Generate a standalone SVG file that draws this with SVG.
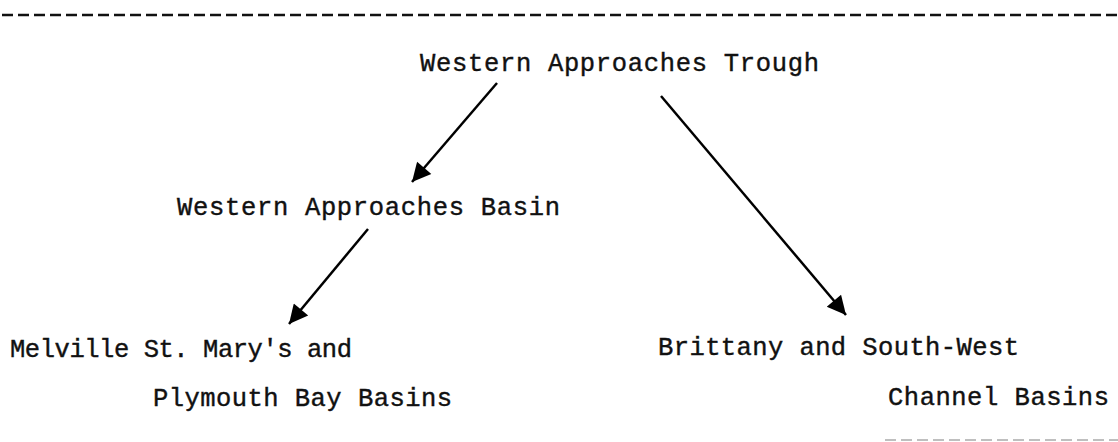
<svg xmlns="http://www.w3.org/2000/svg" width="1118" height="442" viewBox="0 0 1118 442">
  <style>
    .lbl { font-family: "Liberation Mono", "Courier New", monospace; font-size: 25.5px; fill: #111; stroke: #111; stroke-width: 0.4; }
    .conn { stroke: #000; stroke-width: 2.5; fill: none; }
    .rule { stroke: #111; stroke-width: 2.5; stroke-dasharray: 11 5; }
    .rule2 { stroke: #aaa; stroke-width: 1.5; stroke-dasharray: 11 5; }
  </style>
  <defs>
    <marker id="ah" viewBox="0 0 10 10" refX="10" refY="5" markerWidth="8.5" markerHeight="7.5" markerUnits="strokeWidth" orient="auto">
      <path d="M0,0 L10,5 L0,10 z" fill="#000"/>
    </marker>
  </defs>
  <rect width="1118" height="442" fill="#fff"/>
  <g id="rules">
    <line class="rule" x1="2" y1="15" x2="1118" y2="15"/>
    <line class="rule2" x1="885" y1="440" x2="1118" y2="440"/>
  </g>
  <g id="connectors">
    <line class="conn" x1="497" y1="83" x2="412" y2="182" marker-end="url(#ah)"/>
    <line class="conn" x1="661" y1="96" x2="846" y2="315" marker-end="url(#ah)"/>
    <line class="conn" x1="368" y1="229" x2="289" y2="324" marker-end="url(#ah)"/>
  </g>
  <g id="trough">
    <text class="lbl" x="420" y="71" textLength="399" lengthAdjust="spacing">Western Approaches Trough</text>
  </g>
  <g id="basin">
    <text class="lbl" x="177" y="215" textLength="383" lengthAdjust="spacing">Western Approaches Basin</text>
  </g>
  <g id="melville">
    <text class="lbl" x="10" y="357" textLength="342" lengthAdjust="spacing">Melville St. Mary's and</text>
    <text class="lbl" x="153" y="406" textLength="299" lengthAdjust="spacing">Plymouth Bay Basins</text>
  </g>
  <g id="brittany">
    <text class="lbl" x="658" y="355" textLength="361" lengthAdjust="spacing">Brittany and South-West</text>
    <text class="lbl" x="888" y="405" textLength="221" lengthAdjust="spacing">Channel Basins</text>
  </g>
</svg>
